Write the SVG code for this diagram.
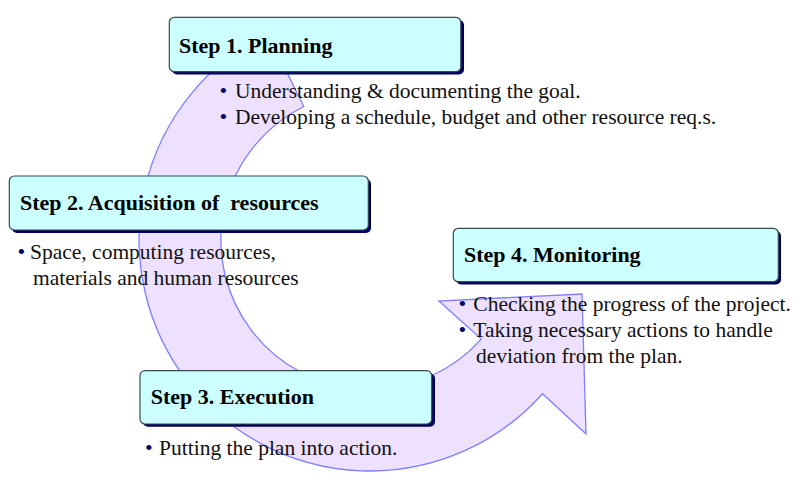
<svg xmlns="http://www.w3.org/2000/svg" width="806" height="482" viewBox="0 0 806 482">
<style>
.box{fill:#CCFFFF;stroke:#3a4a4a;stroke-width:1.2}
.shadow{fill:#000066}
.title{font-family:"Liberation Serif","Times New Roman",serif;font-weight:bold;font-size:22px;fill:#000}
.body{font-family:"Liberation Serif","Times New Roman",serif;font-size:21.5px;fill:#111}
.bul{font-family:"Liberation Serif","Times New Roman",serif;font-size:22px;fill:#000066}
</style>
<g id="connectors">
<path id="cycle-arrow" d="M303.8,106.5 L267.3,33.1 A231,231 0 1 0 542.5,393.7 L586,434 L582,294 L439,301 L481.2,339.1 A149,149 0 1 1 303.8,106.5 Z" fill="#EEE0FF" stroke="#7F7FFF" stroke-width="1.3" stroke-linejoin="miter"/>
</g>
<g id="step1">
<rect class="shadow" x="172" y="20" width="292" height="54.5" rx="5"/>
<rect class="box" x="169.3" y="17.3" width="291.5" height="54.4" rx="5"/>
<text class="title" x="179" y="52.7">Step 1. Planning</text>
<text class="bul" x="219.5" y="98">•</text>
<text class="body" x="235" y="98">Understanding &amp; documenting the goal.</text>
<text class="bul" x="219.5" y="124">•</text>
<text class="body" x="235" y="124">Developing a schedule, budget and other resource req.s.</text>
</g>
<g id="step2">
<rect class="shadow" x="12" y="179" width="359" height="54" rx="5"/>
<rect class="box" x="9.3" y="176" width="359" height="54" rx="5"/>
<text class="title" x="20" y="209.5" xml:space="preserve">Step 2. Acquisition of  resources</text>
<text class="bul" x="17.5" y="259">•</text>
<text class="body" x="30" y="259">Space, computing resources,</text>
<text class="body" x="33" y="285">materials and human resources</text>
</g>
<g id="step3">
<rect class="shadow" x="143" y="373.5" width="292" height="53.3" rx="5"/>
<rect class="box" x="140" y="370.7" width="291.7" height="53.3" rx="5"/>
<text class="title" x="150.7" y="404">Step 3. Execution</text>
<text class="bul" x="145" y="455">•</text>
<text class="body" x="159" y="455">Putting the plan into action.</text>
</g>
<g id="step4">
<rect class="shadow" x="456" y="231" width="325" height="53.4" rx="5"/>
<rect class="box" x="453.3" y="228.3" width="325" height="53.4" rx="5"/>
<text class="title" x="464" y="261.7">Step 4. Monitoring</text>
<text class="bul" x="458.5" y="310.7">•</text>
<text class="body" x="473.3" y="310.7">Checking the progress of the project.</text>
<text class="bul" x="458.5" y="336.7">•</text>
<text class="body" x="473.3" y="336.7">Taking necessary actions to handle</text>
<text class="body" x="476" y="362.7">deviation from the plan.</text>
</g>
</svg>
